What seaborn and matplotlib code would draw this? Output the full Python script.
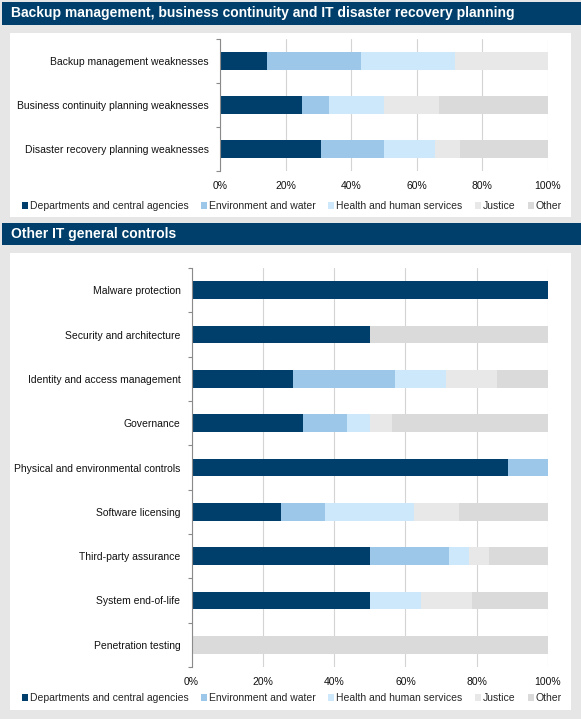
import numpy as np
import pandas as pd
import matplotlib
matplotlib.use('Agg')
import matplotlib.pyplot as plt
import seaborn as sns
from matplotlib.patches import Rectangle, Patch
from matplotlib.ticker import FuncFormatter

# Series and colours
series = ['Departments and central agencies', 'Environment and water',
          'Health and human services', 'Justice', 'Other']
colors = ['#003F6B', '#9DC7E9', '#CCE8FA', '#E8E8E8', '#DADADA']

# Top chart data (percent)
top_categories = ['Backup management weaknesses',
                  'Business continuity planning weaknesses',
                  'Disaster recovery planning weaknesses']
top_dept = [14.3, 25.0, 30.8]
top_env = [28.6, 8.3, 19.2]
top_health = [28.6, 16.7, 15.4]
top_justice = [28.5, 16.7, 7.7]
top_other = [0.0, 33.3, 26.9]

# Bottom chart data (percent)
bot_categories = ['Malware protection', 'Security and architecture',
                  'Identity and access management', 'Governance',
                  'Physical and environmental controls', 'Software licensing',
                  'Third-party assurance', 'System end-of-life',
                  'Penetration testing']
bot_dept = [100.0, 50.0, 28.6, 31.25, 88.9, 25.0, 50.0, 50.0, 0.0]
bot_env = [0.0, 0.0, 28.6, 12.5, 11.1, 12.5, 22.2, 0.0, 0.0]
bot_health = [0.0, 0.0, 14.3, 6.25, 0.0, 25.0, 5.6, 14.3, 0.0]
bot_justice = [0.0, 0.0, 14.3, 6.25, 0.0, 12.5, 5.6, 14.3, 0.0]
bot_other = [0.0, 50.0, 14.2, 43.75, 0.0, 25.0, 16.6, 21.4, 100.0]

sns.set_style('white')
plt.rcParams['font.family'] = ['Liberation Sans', 'DejaVu Sans']

W, H = 581, 719
fig = plt.figure(figsize=(W / 100, H / 100), dpi=100)
fig.patch.set_facecolor('#E6E6E6')


def px_rect(x, y, w, h, color):
    fig.patches.append(Rectangle((x / W, 1 - (y + h) / H), w / W, h / H,
                                 transform=fig.transFigure, color=color,
                                 zorder=-5, lw=0))


def px_axes(x0, y0, x1, y1):
    return fig.add_axes([x0 / W, 1 - y1 / H, (x1 - x0) / W, (y1 - y0) / H])


# Header bands and white panels
px_rect(2, 2, 579, 23, '#003F6B')
px_rect(10, 33, 561, 184, 'white')
px_rect(2, 223, 579, 22, '#003F6B')
px_rect(10, 253, 561, 457, 'white')
fig.text(11 / W, 1 - 13.5 / H, 'Backup management, business continuity and IT disaster recovery planning',
         color='white', fontsize=10, fontweight='bold', va='center', ha='left')
fig.text(11 / W, 1 - 234 / H, 'Other IT general controls',
         color='white', fontsize=10, fontweight='bold', va='center', ha='left')


def draw(ax, cats, parts):
    df = pd.DataFrame(dict(zip(series, parts)), index=cats)
    cum = df.cumsum(axis=1)
    # stacked bars: draw cumulative totals from the back to the front
    for i in reversed(range(len(series))):
        sns.barplot(x=cum[series[i]].values, y=cats, color=colors[i],
                    orient='h', width=0.4, saturation=1, linewidth=0, ax=ax, zorder=3)
    n = len(cats)
    ax.set_xlim(0, 100)
    ax.set_ylim(n - 0.5, -0.5)
    ax.set_xticks(np.arange(0, 101, 20))
    ax.set_xticks([0], minor=True)
    ax.xaxis.set_major_formatter(FuncFormatter(lambda v, p: f'{v:.0f}%'))
    ax.set_yticks(np.arange(n + 1) - 0.5, minor=True)
    ax.xaxis.grid(True, color='#D4D4D4', lw=0.8)
    ax.set_axisbelow(True)
    for s in ['top', 'right', 'bottom']:
        ax.spines[s].set_visible(False)
    ax.spines['left'].set_color('#8A8A8A')
    ax.spines['left'].set_linewidth(0.8)
    ax.spines['left'].set_zorder(5)
    ax.tick_params(axis='y', which='major', left=False, length=0, pad=8, labelsize=7.5, labelcolor='#111111')
    ax.tick_params(axis='y', which='minor', left=True, length=3, color='#8A8A8A', width=0.8)
    ax.tick_params(axis='x', which='major', bottom=False, length=0, pad=7, labelsize=7.5, labelcolor='#111111')
    ax.tick_params(axis='x', which='minor', bottom=True, length=3, color='#8A8A8A', width=0.8)
    ax.set_facecolor('white')
    ax.set_xlabel('')
    ax.set_ylabel('')


ax1 = px_axes(220, 39, 548, 171)
draw(ax1, top_categories, [top_dept, top_env, top_health, top_justice, top_other])

ax2 = px_axes(191.5, 268, 548, 667)
draw(ax2, bot_categories, [bot_dept, bot_env, bot_health, bot_justice, bot_other])

handles = [Patch(facecolor=c, edgecolor='none') for c in colors]
for yc in [206, 698]:
    fig.legend(handles, series, loc='center', bbox_to_anchor=(292 / W, 1 - yc / H),
               ncol=5, frameon=False, fontsize=7.5, handlelength=0.6, handleheight=0.6,
               handletextpad=0.2, columnspacing=1.15, borderaxespad=0, borderpad=0)

fig.savefig('out.png', dpi=100, facecolor=fig.get_facecolor())
